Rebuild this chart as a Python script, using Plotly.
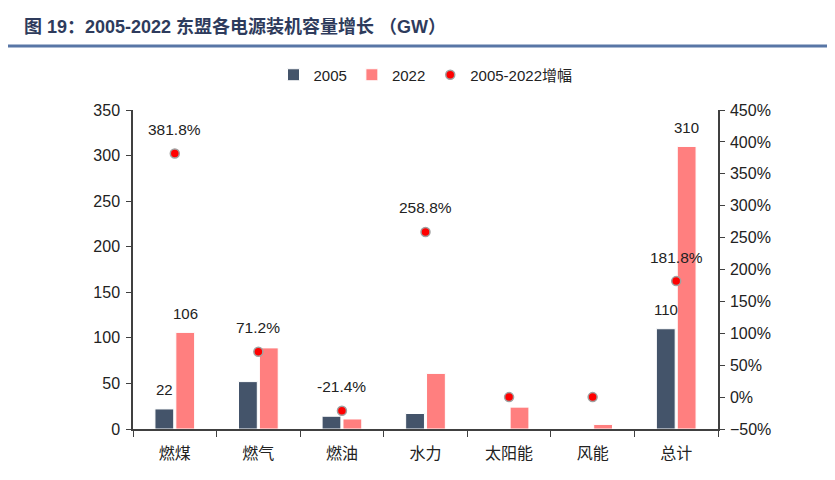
import plotly.graph_objects as go

categories = ["燃煤", "燃气", "燃油", "水力", "太阳能", "风能", "总计"]
cap_2005 = [22, 52, 14, 17, 0, 0, 110]
cap_2022 = [106, 89, 11, 61, 24, 5, 310]
growth_pct = [381.8, 71.2, -21.4, 258.8, 0, 0, 181.8]
label_2005 = ["22", "", "", "", "", "", "110"]
label_2022 = ["106", "", "", "", "", "", "310"]
label_growth = ["381.8%", "71.2%", "-21.4%", "258.8%", "", "", "181.8%"]

FONT = "Liberation Sans, Arial, Noto Sans CJK SC, sans-serif"
TXT = "#222222"

# page body has an 8px default margin -> compensate so the plot sits where the reference has it
L, T, PW, PH = 125, 102, 585, 319
W, H = 835, 480

fig = go.Figure()
fig.add_trace(go.Bar(
    x=categories, y=cap_2005, name="2005",
    marker=dict(color="#44546A", line=dict(color="#FFFFFF", width=1)),
))
fig.add_trace(go.Bar(
    x=categories, y=cap_2022, name="2022",
    marker=dict(color="#FF7F7F", line=dict(color="#FFFFFF", width=1)),
))
fig.add_trace(go.Scatter(
    x=categories, y=growth_pct, name="2005-2022增幅", yaxis="y2",
    mode="markers", cliponaxis=False,
    marker=dict(color="#FF0000", size=9, line=dict(color="#A0A0A0", width=1.5)),
))

annotations = []
slot_px = PW / len(categories) * 0.5 / 2  # width of one bar slot in px
for cat, v, t in zip(categories, cap_2005, label_2005):
    if t:
        annotations.append(dict(x=cat, y=v, xref="x", yref="y", text=t, showarrow=False,
                                xshift=-slot_px / 2, yanchor="bottom", yshift=9,
                                font=dict(size=15, color=TXT, family=FONT)))
for cat, v, t in zip(categories, cap_2022, label_2022):
    if t:
        annotations.append(dict(x=cat, y=v, xref="x", yref="y", text=t, showarrow=False,
                                xshift=slot_px / 2, yanchor="bottom", yshift=8,
                                font=dict(size=15, color=TXT, family=FONT)))
for cat, v, t in zip(categories, growth_pct, label_growth):
    if t:
        annotations.append(dict(x=cat, y=v, xref="x", yref="y2", text=t, showarrow=False,
                                yanchor="middle", yshift=24,
                                font=dict(size=15.5, color=TXT, family=FONT)))

annotations.append(dict(
    text="<b>图 19：2005-2022 东盟各电源装机容量增长 （GW）</b>",
    xref="paper", yref="paper", x=(14 - L) / PW, xanchor="left",
    y=1 + (T - 19) / PH, yanchor="middle", showarrow=False,
    font=dict(size=18, color="#2E3B5C", family=FONT),
))

fig.update_layout(
    width=W, height=H,
    paper_bgcolor="white", plot_bgcolor="white",
    margin=dict(l=L, r=W - L - PW, t=T, b=H - T - PH, autoexpand=False),
    barmode="group", bargap=0.5, bargroupgap=0.1,
    font=dict(family=FONT, size=15, color=TXT),
    showlegend=True,
    legend=dict(orientation="h", x=0.5, xanchor="center", y=1 + (T - 67) / PH, yanchor="middle",
                font=dict(size=15, color=TXT, family=FONT), itemwidth=30,
                bgcolor="rgba(0,0,0,0)"),
    xaxis=dict(
        automargin=False,
        showline=True, linecolor="#404040", linewidth=1.5,
        ticks="outside", tickson="boundaries", ticklen=6, tickcolor="#404040",
        ticklabelstandoff=9,
        tickfont=dict(size=16, color=TXT, family=FONT), showgrid=False,
    ),
    yaxis=dict(
        automargin=False,
        range=[0, 350], dtick=50, showgrid=False, zeroline=False,
        showline=True, linecolor="#404040", linewidth=1.5,
        ticks="outside", ticklen=5, tickcolor="#404040", ticklabelstandoff=3,
        tickfont=dict(size=16, color=TXT, family=FONT),
    ),
    yaxis2=dict(
        automargin=False,
        range=[-50, 450], dtick=50, overlaying="y", side="right",
        showgrid=False, zeroline=False, ticksuffix="%",
        showline=True, linecolor="#404040", linewidth=1.5,
        ticks="outside", ticklen=5, tickcolor="#404040", ticklabelstandoff=2,
        tickfont=dict(size=16, color=TXT, family=FONT),
    ),
    annotations=annotations,
    shapes=[dict(
        type="line", xref="paper", yref="paper",
        x0=(0 - L) / PW, x1=(W - L) / PW, y0=1 + (T - 38) / PH, y1=1 + (T - 38) / PH,
        line=dict(color="#5876A6", width=3),
    )],
)

fig.write_html("out.html")
